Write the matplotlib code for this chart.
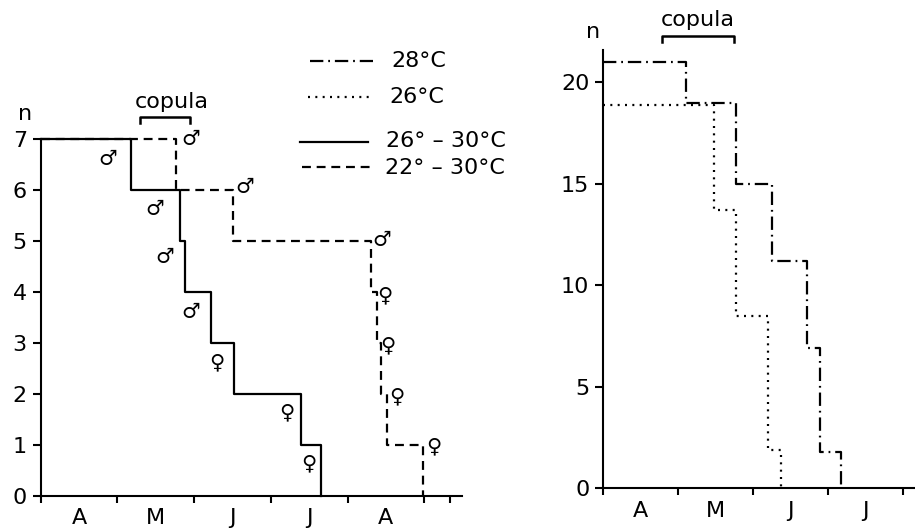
import matplotlib
matplotlib.use("Agg")
import matplotlib.pyplot as plt
from matplotlib.lines import Line2D

plt.rcParams['font.family'] = ['DejaVu Sans']

# ---------------- data ----------------
months_left = ["A", "M", "J", "J", "A"]
months_right = ["A", "M", "J", "J"]

# left panel (x in months from 1 April)
solid_x = [0, 1.18, 1.82, 1.88, 2.22, 2.52, 3.40, 3.66]
solid_n = [7, 6, 5, 4, 3, 2, 1, 0]
dashed_x = [0, 1.77, 2.51, 4.31, 4.38, 4.44, 4.51, 4.99]
dashed_n = [7, 6, 5, 4, 3, 2, 1, 0]

male_x = [0.88, 1.95, 1.49, 2.66, 1.62, 4.45, 1.95]
male_y = [6.62, 7.01, 5.64, 6.06, 4.69, 5.02, 3.61]
female_x = [2.29, 3.21, 3.49, 4.49, 4.53, 4.64, 5.12]
female_y = [2.63, 1.65, 0.64, 3.94, 2.96, 1.95, 0.97]

# right panel
dashdot_x = [0, 1.10, 1.77, 2.25, 2.71, 2.89, 3.17]
dashdot_n = [21, 19, 15, 11.2, 6.9, 1.8, 0]
dotted_x = [0, 1.48, 1.77, 2.20, 2.37]
dotted_n = [18.9, 13.7, 8.5, 1.9, 0]

legend_labels = ["28°C", "26°C", "26° – 30°C", "22° – 30°C"]

# ---------------- figure ----------------
W, H = 915, 529
fig = plt.figure(figsize=(W / 100, H / 100), dpi=100)

LW = 1.6
DASH = (0, (4.0, 2.6))
DASHDOT = (0, (6.0, 2.2, 0.8, 2.2))
DOT = (0, (0.9, 2.4))
FS = 16

axL = fig.add_axes([40.7 / W, 1 - 496 / H, (462 - 40.7) / W, (496 - 139.3) / H])
axR = fig.add_axes([603.3 / W, 1 - 488.3 / H, (915 - 603.3) / W, (488.3 - 50) / H])

for ax in (axL, axR):
    for s in ("top", "right"):
        ax.spines[s].set_visible(False)
    for s in ("left", "bottom"):
        ax.spines[s].set_linewidth(1.5)
    ax.tick_params(axis="y", direction="out", length=6, width=1.5, pad=4, labelsize=FS)
    ax.tick_params(axis="x", which="major", direction="out", length=5, width=1.5, labelbottom=False)
    ax.tick_params(axis="x", which="minor", length=0, pad=9, labelsize=FS)

# ---- left panel ----
axL.set_xlim(0, (462 - 40.7) / 76.7)
axL.set_ylim(0, 7)
axL.set_yticks(range(0, 8))
axL.set_xticks([0, 1, 2, 3, 4, 5, 5.34])
axL.set_xticks([i + 0.5 for i in range(len(months_left))], minor=True)
axL.set_xticklabels(months_left, minor=True)

axL.step(dashed_x, dashed_n, where="post", color="black", lw=LW, ls=DASH, clip_on=False, zorder=2)
axL.step(solid_x, solid_n, where="post", color="black", lw=LW, ls="-", clip_on=False, zorder=3)

for x, y in zip(male_x, male_y):
    axL.text(x, y, "♂", ha="center", va="center", fontsize=15, fontweight="bold")
for x, y in zip(female_x, female_y):
    axL.text(x, y, "♀", ha="center", va="center", fontsize=15, fontweight="bold")

# copula bracket
bx0, bx1, by, bd = 1.29, 1.95, 7.44, 0.12
axL.plot([bx0, bx0, bx1, bx1], [by - bd, by, by, by - bd], color="black", lw=1.8, clip_on=False)
axL.text(1.71, 7.73, "copula", ha="center", va="center", fontsize=FS)
axL.text(-0.2, 7.5, "n", ha="center", va="center", fontsize=FS)

# ---- right panel ----
axR.set_xlim(0, (915 - 603.3) / 75)
axR.set_ylim(0, 21.6)
axR.set_yticks([0, 5, 10, 15, 20])
axR.set_xticks([0, 1, 2, 3, 4])
axR.set_xticks([i + 0.5 for i in range(len(months_right))], minor=True)
axR.set_xticklabels(months_right, minor=True)

axR.step(dotted_x, dotted_n, where="post", color="black", lw=LW, ls=DOT, clip_on=False, zorder=2)
axR.step(dashdot_x, dashdot_n, where="post", color="black", lw=LW, ls=DASHDOT, clip_on=False, zorder=3)

rx0, rx1, ry, rd = 0.78, 1.74, 22.3, 0.3
axR.plot([rx0, rx0, rx1, rx1], [ry - rd, ry, ry, ry - rd], color="black", lw=1.8, clip_on=False)
axR.text(1.26, 23.1, "copula", ha="center", va="center", fontsize=FS)
axR.text(-0.14, 22.5, "n", ha="center", va="center", fontsize=FS)

# ---- legend (figure pixel layout) ----
leg_rows = [
    (310, 373, 61, DASHDOT, 391, 61),
    (308, 373, 97, DOT, 389, 97),
    (300, 368, 141.5, "-", 386, 141),
    (302, 372, 167, DASH, 385, 168),
]
for (x0, x1, y, ls, tx, ty), lab in zip(leg_rows, legend_labels):
    fig.add_artist(Line2D([x0 / W, x1 / W], [1 - y / H, 1 - y / H], color="black", lw=LW, ls=ls,
                          transform=fig.transFigure))
    fig.text(tx / W, 1 - ty / H, lab, ha="left", va="center", fontsize=FS)

fig.savefig("out.png", dpi=100)
